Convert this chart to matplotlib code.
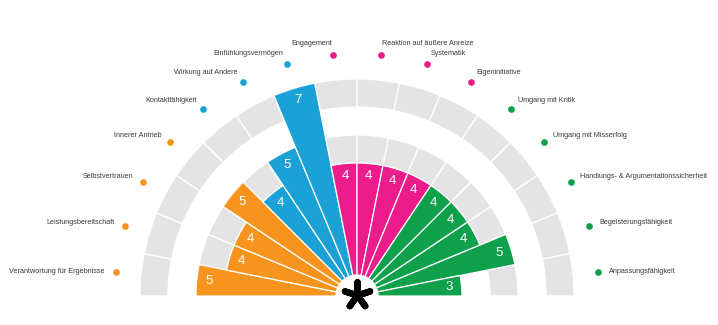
import numpy as np
import matplotlib.pyplot as plt
from matplotlib.markers import MarkerStyle

plt.rcParams['font.family'] = ['Liberation Sans', 'DejaVu Sans']

# categories from left to right
categories = ['Verantwortung für Ergebnisse', 'Leistungsbereitschaft', 'Selbstvertrauen',
              'Innerer Antrieb', 'Kontaktfähigkeit', 'Wirkung auf Andere',
              'Einfühlungsvermögen', 'Engagement', 'Reaktion auf äußere Anreize',
              'Systematik', 'Eigeninitiative', 'Umgang mit Kritik', 'Umgang mit Misserfolg',
              'Handlungs- & Argumentationssicherheit', 'Begeisterungsfähigkeit',
              'Anpassungsfähigkeit']
values = [5, 4, 4, 5, 4, 5, 7, 4, 4, 4, 4, 4, 4, 4, 5, 3]
groups = ['o', 'o', 'o', 'o', 'b', 'b', 'b', 'p', 'p', 'p', 'p', 'g', 'g', 'g', 'g', 'g']

group_colors = {'o': '#F7941D', 'b': '#1BA1D6', 'p': '#EC1C8C', 'g': '#0FA04B'}
colors = [group_colors[g] for g in groups]

W, H = 718, 325
fig = plt.figure(figsize=(W / 100, H / 100), dpi=100)

# polar axes centred on the bottom middle of the figure
cx, cy, R = 357, 29, 259
ax = fig.add_axes([(cx - R) / W, (cy - R) / H, 2 * R / W, 2 * R / H], projection='polar')
ax.set_theta_zero_location('W')
ax.set_theta_direction(-1)
ax.set_ylim(0, 8.5)
ax.set_rorigin(-0.75)
ax.set_axis_off()

n = len(categories)
width = np.pi / n
theta = (np.arange(n) + 0.5) * width

# grey background rings
for lo in (4, 6):
    ax.bar(theta, 1, width=width, bottom=lo, color='#E4E4E4', edgecolor='white',
           linewidth=0.9, zorder=1)

ax.bar(theta, values, width=width, bottom=0, color=colors, edgecolor='white',
       linewidth=0.9, zorder=2)

for t, v in zip(theta, values):
    ax.text(t, v - 0.45, str(v), color='white', fontsize=9.5, ha='center', va='center', zorder=3)

# outer labels with dots
for t, name, c in zip(theta, categories, colors):
    ax.plot([t], [7.9], 'o', color=c, markersize=3.8, clip_on=False, zorder=3)
    phi = np.pi - t
    ha = 'right' if np.cos(phi) < 0 else 'left'
    ax.annotate(name, (t, 7.9), xytext=(8 * np.cos(phi), 8 * np.sin(phi)),
                textcoords='offset points', ha=ha, va='center', fontsize=5.2,
                color='#3a3a3a', annotation_clip=False)

# asterisk in the middle
ax.plot([0.5], [0.502], transform=ax.transAxes, linestyle='none',
        marker=MarkerStyle((5, 2, 0), capstyle='round', joinstyle='round'), markersize=19,
        markeredgewidth=4.6, color='black', clip_on=False, zorder=4)

fig.savefig('out.png', dpi=100)
